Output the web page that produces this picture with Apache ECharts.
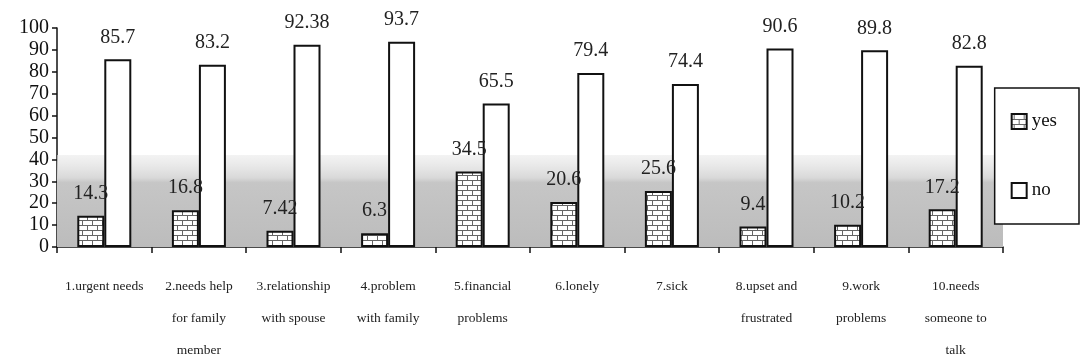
<!DOCTYPE html>
<html>
<head>
<meta charset="utf-8">
<script src="https://cdn.jsdelivr.net/npm/echarts@6/dist/echarts.min.js"></script>
<style>
  html, body { margin: 0; padding: 0; background: #fff; }
  #chart { width: 1081px; height: 361px; }
</style>
</head>
<body>
<div id="chart"></div>
<script>
var categories = [
    '1.urgent needs',
    '2.needs help\nfor family\nmember',
    '3.relationship\nwith spouse',
    '4.problem\nwith family',
    '5.financial\nproblems',
    '6.lonely',
    '7.sick',
    '8.upset and\nfrustrated',
    '9.work\nproblems',
    '10.needs\nsomeone to\ntalk'
];
var yesValues = [14.3, 16.8, 7.42, 6.3, 34.5, 20.6, 25.6, 9.4, 10.2, 17.2];
var noValues = [85.7, 83.2, 92.38, 93.7, 65.5, 79.4, 74.4, 90.6, 89.8, 82.8];

// brick pattern for the "yes" bars
function brickPattern() {
    var c = document.createElement('canvas');
    c.width = 10;
    c.height = 10;
    var ctx = c.getContext('2d');
    ctx.fillStyle = '#fff';
    ctx.fillRect(0, 0, 10, 10);
    ctx.strokeStyle = '#666';
    ctx.lineWidth = 1;
    ctx.beginPath();
    ctx.moveTo(0, 0.5); ctx.lineTo(10, 0.5);
    ctx.moveTo(0, 5.5); ctx.lineTo(10, 5.5);
    ctx.moveTo(2.5, 0); ctx.lineTo(2.5, 5);
    ctx.moveTo(7.5, 5); ctx.lineTo(7.5, 10);
    ctx.stroke();
    return c;
}

window.onload = function () {
    var serif = '"Liberation Serif", "DejaVu Serif", serif';
    var chart = echarts.init(document.getElementById('chart'));
    var option = {
        animation: false,
        backgroundColor: '#fff',
        grid: { left: 57, right: 78, top: 28, bottom: 114, outerBoundsMode: 'none' },
        legend: {
            orient: 'vertical',
            right: 2,
            top: 88,
            data: [
                { name: 'yes', icon: 'rect' },
                { name: 'no', icon: 'rect' }
            ],
            itemWidth: 15,
            itemHeight: 15,
            itemGap: 50,
            padding: [24, 22, 24, 16],
            backgroundColor: '#fff',
            borderColor: '#111',
            borderWidth: 1.5,
            textStyle: { fontFamily: serif, fontSize: 19, color: '#111' }
        },
        xAxis: {
            type: 'category',
            data: categories,
            axisLine: { lineStyle: { color: '#111', width: 1.5 } },
            axisTick: { show: true, length: 6, lineStyle: { color: '#111', width: 1.5 } },
            axisLabel: {
                interval: 0,
                fontFamily: serif,
                fontSize: 13.5,
                lineHeight: 32,
                color: '#222',
                margin: 23
            }
        },
        yAxis: {
            type: 'value',
            min: 0,
            max: 100,
            interval: 10,
            splitLine: { show: false },
            axisLine: { show: true, lineStyle: { color: '#111', width: 1.5 } },
            axisTick: { show: true, length: 5, lineStyle: { color: '#111', width: 1.5 } },
            axisLabel: { fontFamily: serif, fontSize: 20, color: '#111', margin: 8 }
        },
        series: [
            {
                name: 'yes',
                type: 'bar',
                data: yesValues,
                barWidth: 27,
                barGap: '0%',
                itemStyle: {
                    color: { image: brickPattern(), repeat: 'repeat' },
                    borderColor: '#111',
                    borderWidth: 2
                },
                label: {
                    show: true,
                    position: 'top',
                    distance: 12,
                    fontFamily: serif,
                    fontSize: 20,
                    color: '#222'
                },
                markArea: {
                    silent: true,
                    itemStyle: {
                        color: {
                            type: 'linear', x: 0, y: 0, x2: 0, y2: 1,
                            colorStops: [
                                { offset: 0, color: 'rgba(235,235,235,0.6)' },
                                { offset: 0.25, color: '#d8d8d8' },
                                { offset: 0.3, color: '#c6c6c6' },
                                { offset: 1, color: '#bcbcbc' }
                            ]
                        }
                    },
                    data: [[{ yAxis: 42 }, { yAxis: 0 }]]
                },
                z: 3
            },
            {
                name: 'no',
                type: 'bar',
                data: noValues,
                barWidth: 27,
                itemStyle: {
                    color: '#fff',
                    borderColor: '#111',
                    borderWidth: 2
                },
                label: {
                    show: true,
                    position: 'top',
                    distance: 12,
                    fontFamily: serif,
                    fontSize: 20,
                    color: '#222'
                },
                z: 3
            }
        ]
    };
    chart.setOption(option);
};
</script>
</body>
</html>
